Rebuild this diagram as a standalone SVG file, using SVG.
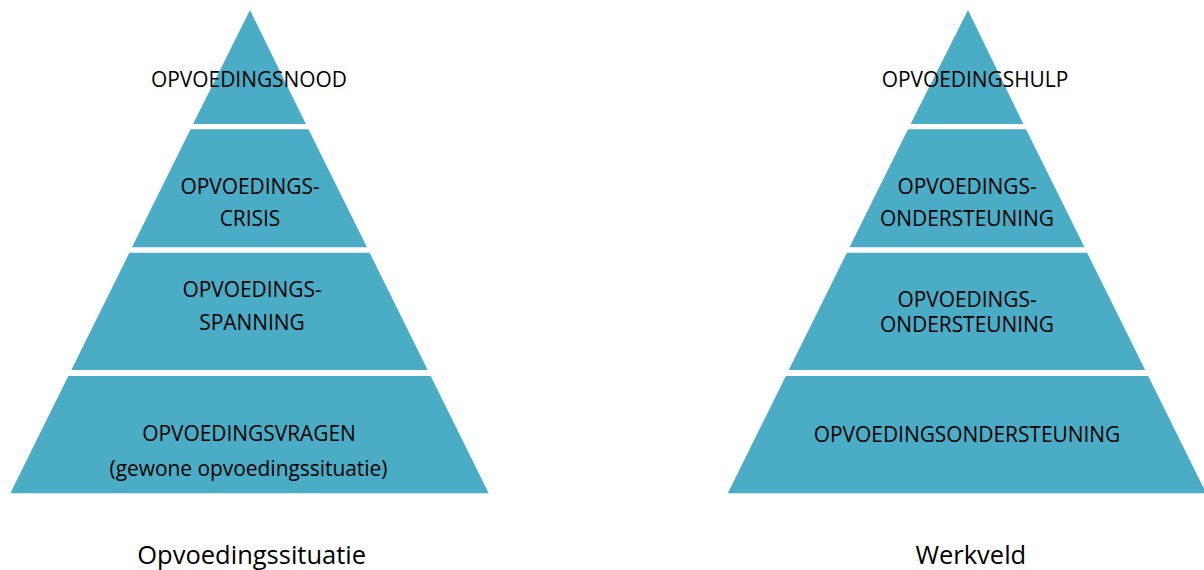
<svg xmlns="http://www.w3.org/2000/svg" width="1204" height="570" viewBox="0 0 1204 570">
<style>
.layer{fill:#4BACC6;stroke:none}
.lbl{font-family:"Open Sans","Liberation Sans",sans-serif;font-size:20.9px;fill:#000;text-anchor:middle}
.cap{font-family:"Open Sans","Liberation Sans",sans-serif;font-size:25.5px;fill:#000;text-anchor:middle}
</style>
<rect width="1204" height="570" fill="#fff"/>
<g id="left-pyramid">
  <g id="l-nood">
    <polygon class="layer" points="250,10 305.9,124 193.1,124"/>
    <text class="lbl" x="249" y="86.5">OPVOEDINGSNOOD</text>
  </g>
  <g id="l-crisis">
    <polygon class="layer" points="190.5,129.3 308.5,129.3 367,247.3 132,247.3"/>
    <text class="lbl" x="250" y="194">OPVOEDINGS-</text>
    <text class="lbl" x="250" y="226">CRISIS</text>
  </g>
  <g id="l-spanning">
    <polygon class="layer" points="129.4,252.7 369.6,252.7 427.7,370 71.3,370"/>
    <text class="lbl" x="252" y="297">OPVOEDINGS-</text>
    <text class="lbl" x="252" y="329.5">SPANNING</text>
  </g>
  <g id="l-vragen">
    <polygon class="layer" points="68.3,376 430.7,376 488.7,493.3 10.3,493.3"/>
    <text class="lbl" x="249" y="441">OPVOEDINGSVRAGEN</text>
    <text class="lbl" x="248.5" y="476">(gewone opvoedingssituatie)</text>
  </g>
</g>
<g id="right-pyramid">
  <g id="r-hulp">
    <polygon class="layer" points="968,10 1023.4,124 910.6,124"/>
    <text class="lbl" x="975" y="86.5">OPVOEDINGSHULP</text>
  </g>
  <g id="r-ondersteuning-1">
    <polygon class="layer" points="908,129.3 1026,129.3 1084.5,247.3 849.5,247.3"/>
    <text class="lbl" x="967" y="194">OPVOEDINGS-</text>
    <text class="lbl" x="967" y="226">ONDERSTEUNING</text>
  </g>
  <g id="r-ondersteuning-2">
    <polygon class="layer" points="846.9,252.7 1087.1,252.7 1145.2,370 788.8,370"/>
    <text class="lbl" x="967" y="306.5">OPVOEDINGS-</text>
    <text class="lbl" x="967" y="332">ONDERSTEUNING</text>
  </g>
  <g id="r-ondersteuning-3">
    <polygon class="layer" points="785.8,376 1148.2,376 1206.2,493.3 727.8,493.3"/>
    <text class="lbl" x="967" y="441.5">OPVOEDINGSONDERSTEUNING</text>
  </g>
</g>
<g id="connectors"/>
<text class="cap" x="251.7" y="564">Opvoedingssituatie</text>
<text class="cap" x="970.8" y="564">Werkveld</text>
</svg>
